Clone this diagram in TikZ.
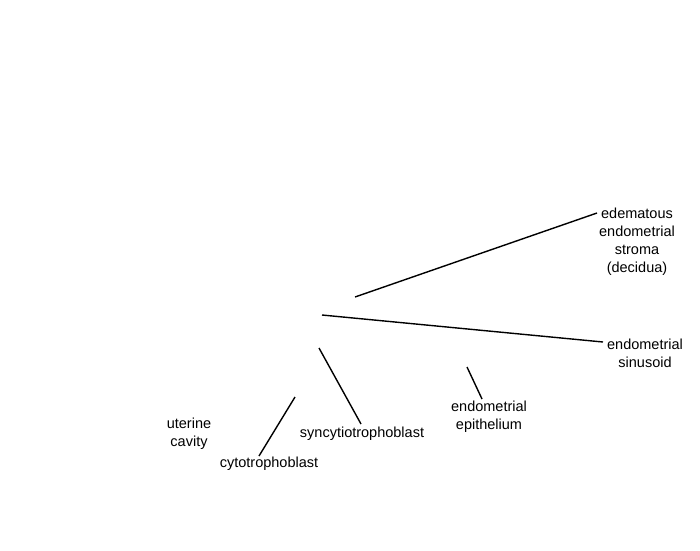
\documentclass[tikz,border=0pt]{standalone}
\usepackage{fontspec}
\setmainfont{Liberation Sans}
\begin{document}
\begin{tikzpicture}[x=1pt,y=-1pt,
  lbl/.style={inner sep=0pt,align=center,font=\fontsize{14.5}{18}\selectfont},
  leader/.style={draw=black,line width=1.4pt}]
\useasboundingbox (0,0) rectangle (700,550);
% labels
\node[lbl] (stroma) at (637,242) {edematous\\endometrial\\stroma\\(decidua)};
\node[lbl] (sinus) at (645,353) {endometrial\\sinusoid};
\node[lbl] (syn) at (362,434) {syncytiotrophoblast};
\node[lbl] (cyto) at (269,464) {cytotrophoblast};
\node[lbl] (epi) at (489,417) {endometrial\\epithelium};
\node[lbl] (cav) at (189,434) {uterine\\cavity};
% leader endpoints
\coordinate (s1) at (355,297); \coordinate (s2) at (597,213);
\coordinate (n1) at (322,315); \coordinate (n2) at (603,342);
\coordinate (y1) at (319,348); \coordinate (y2) at (361,424);
\coordinate (c1) at (295,397); \coordinate (c2) at (259,456);
\coordinate (e1) at (467,367); \coordinate (e2) at (482,399);
\draw[leader] (s1) -- (s2);
\draw[leader] (n1) -- (n2);
\draw[leader] (y1) -- (y2);
\draw[leader] (c1) -- (c2);
\draw[leader] (e1) -- (e2);
\end{tikzpicture}
\end{document}
